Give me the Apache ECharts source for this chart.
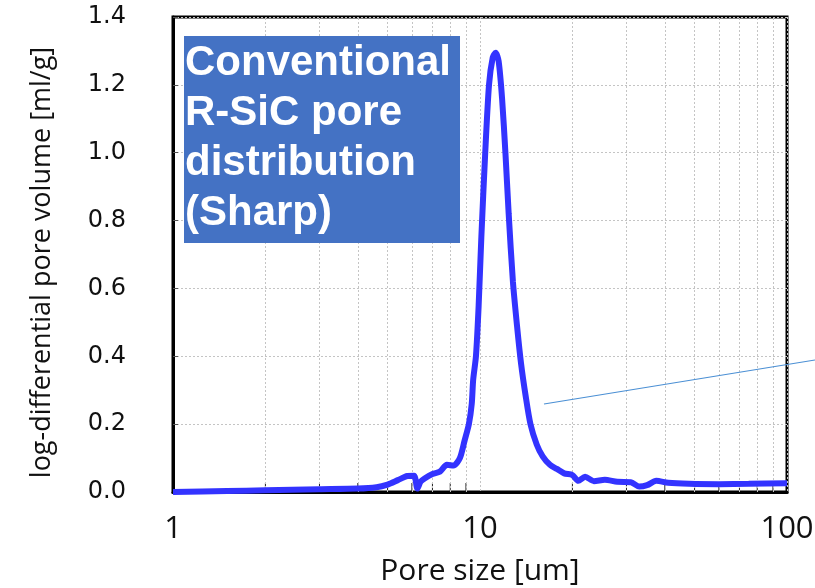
<!DOCTYPE html>
<html>
<head>
<meta charset="utf-8">
<script src="https://cdn.jsdelivr.net/npm/echarts@6/dist/echarts.min.js"></script>
<style>html,body{margin:0;padding:0;background:#fff}#c{width:815px;height:588px}</style>
</head>
<body>
<div id="c"></div>
<script>
// Pore size [um]
var poreSize = [1.0, 1.5, 2.0, 3.0, 4.0, 4.6, 5.0, 5.4, 5.8, 6.1, 6.25, 6.4, 6.6, 7.0, 7.4, 7.8, 8.2, 8.6, 8.9, 9.2, 9.4, 9.5, 9.7, 9.9, 10.1, 10.4, 10.7, 11.0, 11.25, 11.5, 11.8, 12.1, 12.4, 12.8, 13.2, 13.6, 14.1, 14.6, 15.3, 16.0, 16.9, 17.8, 18.8, 20.0, 20.9, 22.0, 23.5, 25.5, 28.0, 31.0, 33.0, 35.0, 37.5, 41, 48, 60, 75, 100];
// log-differential pore volume [ml/g]
var poreVolume = [0.0, 0.003, 0.005, 0.008, 0.01, 0.014, 0.022, 0.035, 0.047, 0.048, 0.01, 0.03, 0.04, 0.053, 0.06, 0.08, 0.078, 0.10, 0.15, 0.2, 0.26, 0.33, 0.40, 0.55, 0.75, 1.0, 1.2, 1.28, 1.295, 1.27, 1.16, 1.0, 0.82, 0.62, 0.49, 0.38, 0.28, 0.2, 0.14, 0.105, 0.08, 0.068, 0.055, 0.05, 0.033, 0.045, 0.032, 0.036, 0.03, 0.029, 0.016, 0.02, 0.033, 0.027, 0.024, 0.023, 0.024, 0.026];
var minorGridX = [2, 3, 4, 5, 6, 7, 8, 9, 20, 30, 40, 50, 60, 70, 80, 90];
var xTickLabels = [1, 10, 100];
var boxText = ['Conventional', 'R-SiC pore', 'distribution', '(Sharp)'];

var chart = echarts.init(document.getElementById('c'), null, {renderer: 'canvas'});
var seriesData = poreSize.map(function (x, i) { return [x, poreVolume[i]]; });

chart.setOption({
  animation: false,
  backgroundColor: '#ffffff',
  grid: {left: 173, right: 28, top: 17, bottom: 96, outerBoundsMode: 'none', containLabel: false,
    show: true, borderColor: '#000', borderWidth: 3, backgroundColor: 'transparent'},
  xAxis: {
    type: 'log', logBase: 10, min: 1, max: 100,
    name: 'Pore size [um]', nameLocation: 'middle', nameGap: 64,
    nameTextStyle: {fontFamily: 'Open Sans', fontSize: 30, color: '#111'},
    axisLine: {show: true, lineStyle: {color: '#000', width: 3}},
    axisTick: {show: false},
    axisLabel: {margin: 22, fontFamily: 'Open Sans', fontSize: 31, color: '#111',
      formatter: function (v) { return xTickLabels.indexOf(Math.round(v)) >= 0 ? String(Math.round(v)) : ''; }},
    splitLine: {show: true, lineStyle: {color: '#c4c4c4', type: [2, 2], width: 1}}
  },
  yAxis: {
    type: 'value', min: 0, max: 1.4, interval: 0.2,
    name: 'log-differential pore volume [ml/g]', nameLocation: 'middle', nameGap: 117,
    nameTextStyle: {fontFamily: 'Open Sans', fontSize: 27, color: '#111', padding: [0, 16, 0, 0]},
    axisLine: {show: true, lineStyle: {color: '#000', width: 3}},
    axisTick: {show: true, inside: true, length: 5, lineStyle: {color: '#555'}},
    axisLabel: {margin: 47, fontFamily: 'DejaVu Sans', fontSize: 24, color: '#111',
      formatter: function (v) { return v.toFixed(1); }},
    splitLine: {show: true, lineStyle: {color: '#c4c4c4', type: [2, 2], width: 1}}
  },
  series: [{
    type: 'line',
    data: seriesData,
    showSymbol: false,
    smooth: 0.25,
    lineStyle: {color: '#3333ff', width: 6},
    markLine: {
      silent: true, symbol: 'none', label: {show: false},
      lineStyle: {color: '#c4c4c4', type: [2, 2], width: 1},
      data: minorGridX.map(function (v) { return {xAxis: v}; })
    },
    z: 5
  }, {
    type: 'custom',
    silent: true,
    data: minorGridX.map(function (v) { return [v, 0]; }),
    renderItem: function (params, api) {
      var p = api.coord([api.value(0), 0]);
      return {type: 'line', shape: {x1: p[0], y1: p[1], x2: p[0], y2: p[1] - 9}, style: {stroke: '#222', lineWidth: 1}};
    },
    z: 4
  }],
  graphic: [
    {type: 'rect', left: 184, top: 36, shape: {width: 276, height: 207}, style: {fill: '#4472C4'}, z: 10},
    {type: 'text', left: 185, top: 38, z: 11,
      style: {text: boxText.join('\n'), fill: '#fff', font: 'bold 42px "Liberation Sans", Arial, sans-serif', lineHeight: 50}},
    {type: 'line', shape: {x1: 544, y1: 404, x2: 815, y2: 360}, style: {stroke: '#4a8fd4', lineWidth: 1.2}, z: 10}
  ]
});
</script>
</body>
</html>
